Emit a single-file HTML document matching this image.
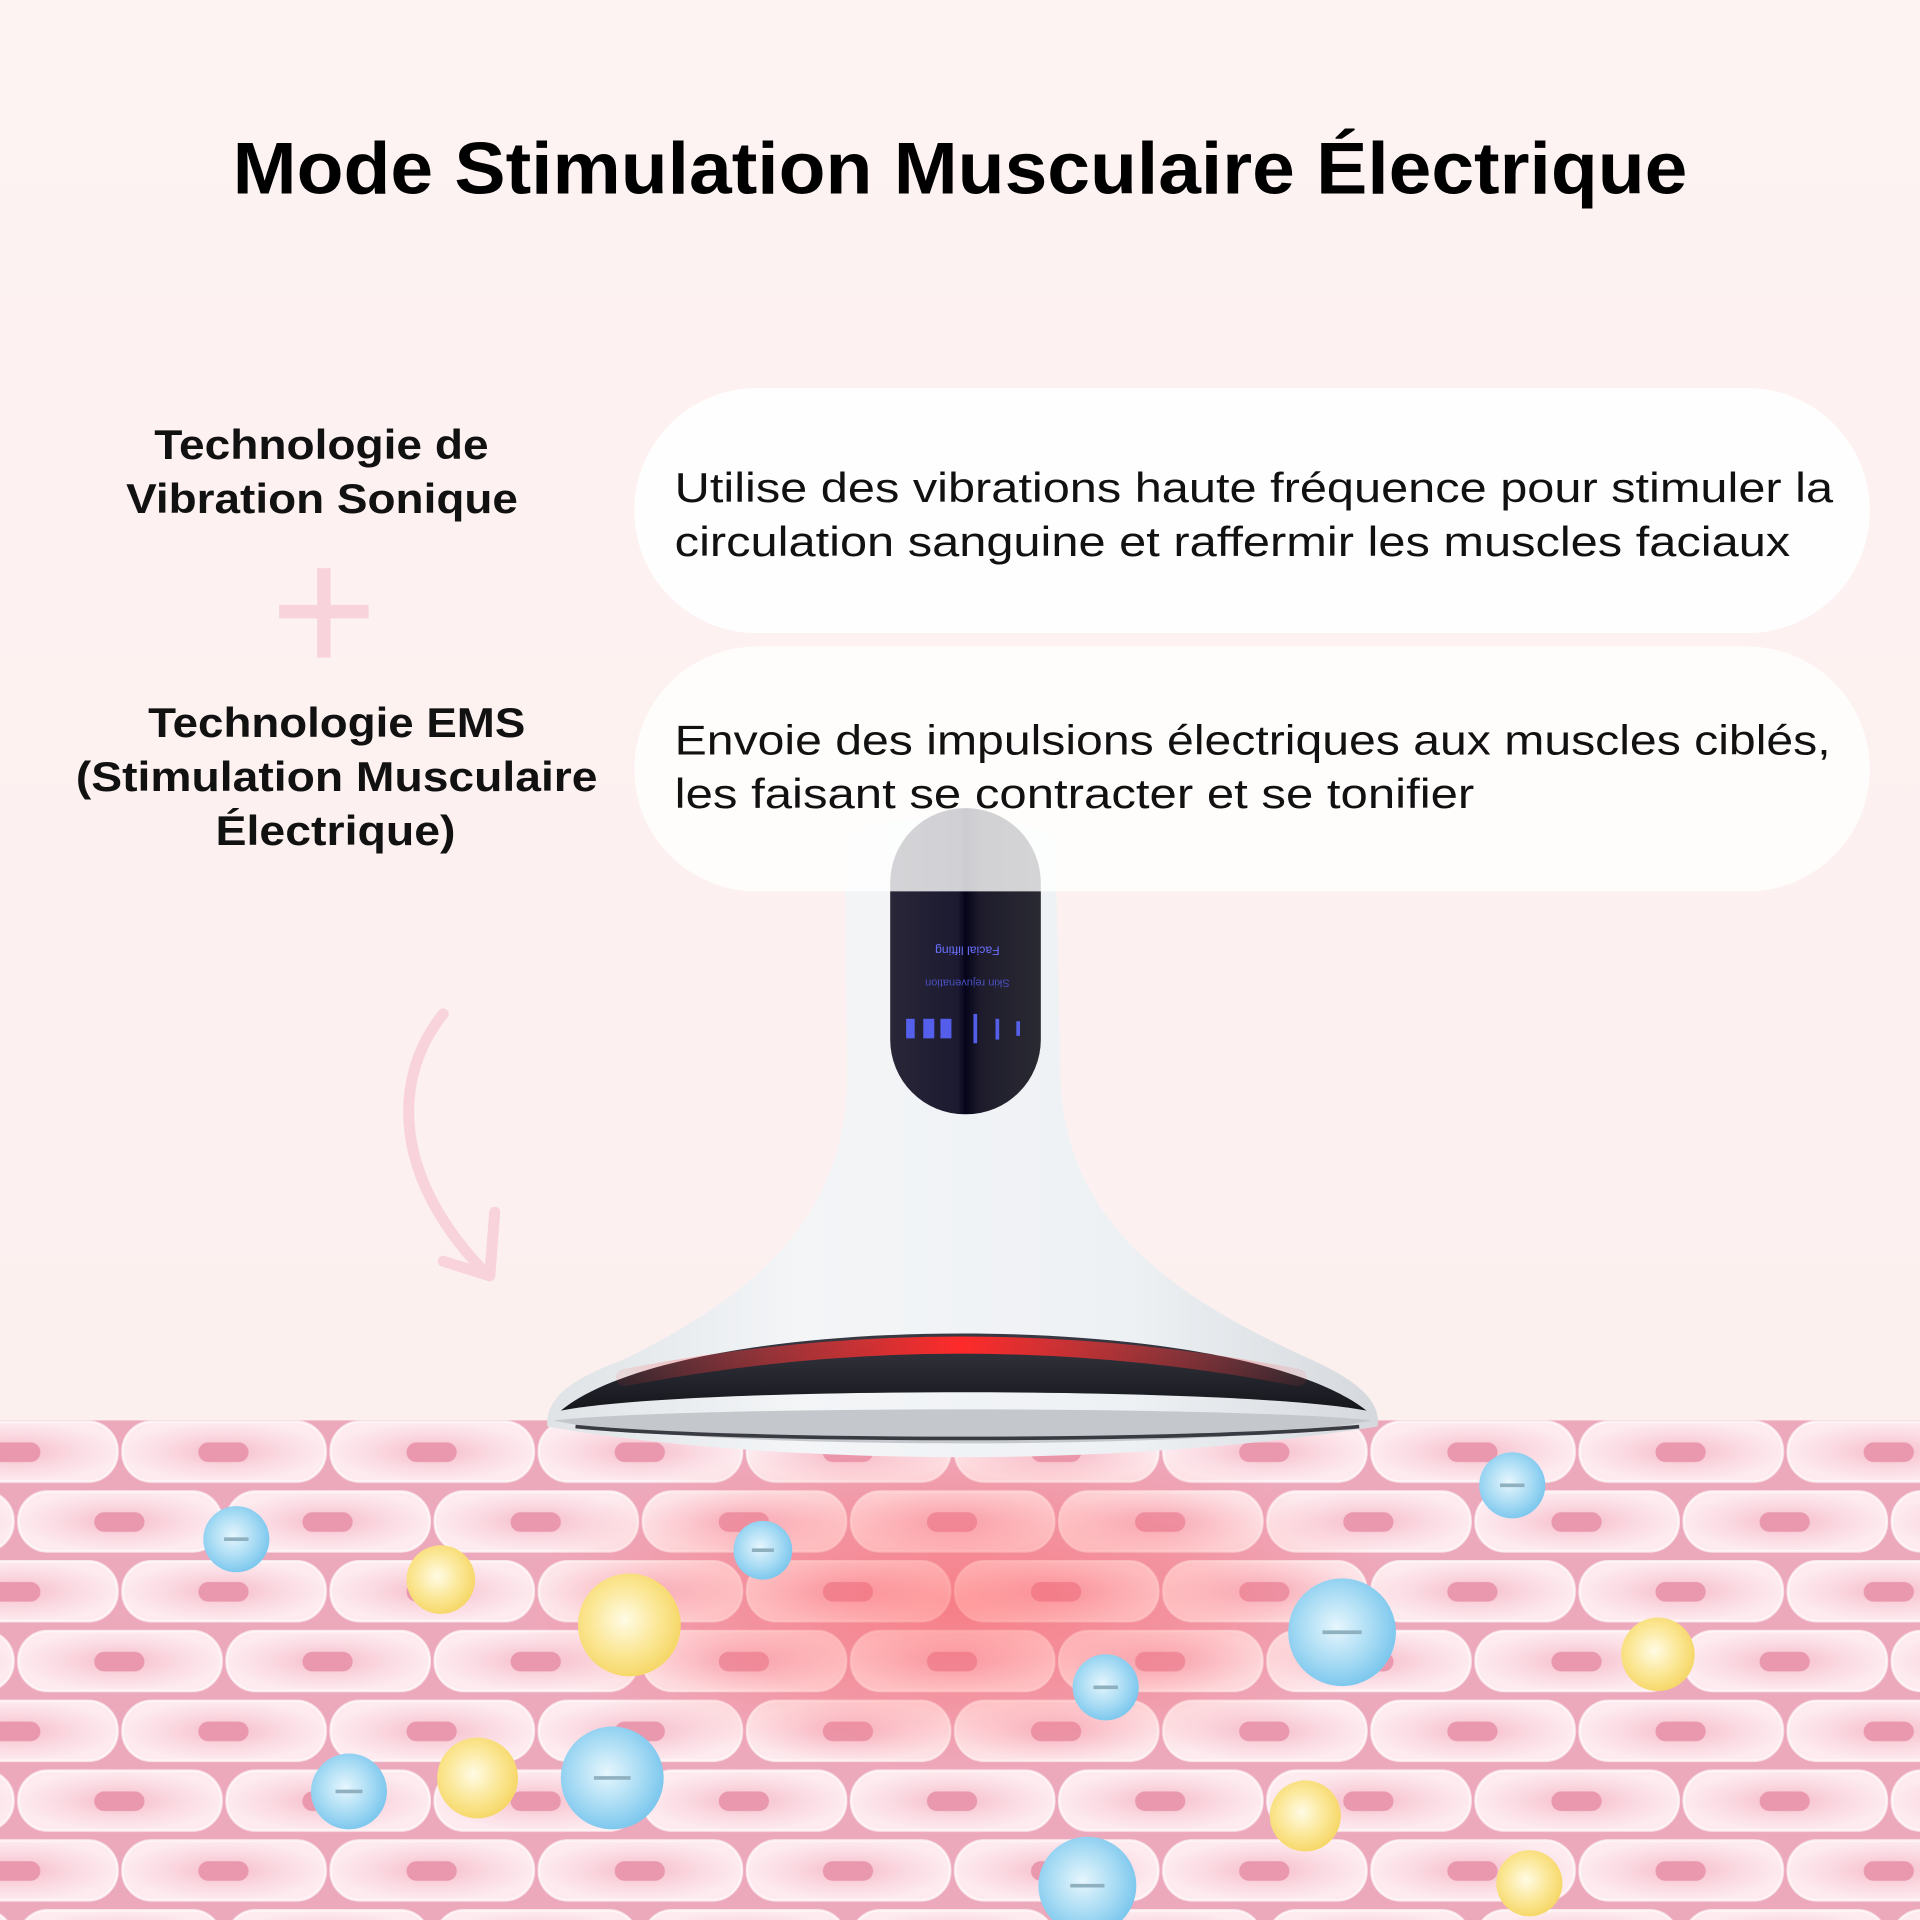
<!DOCTYPE html>
<html><head><meta charset="utf-8"><style>
html,body{margin:0;padding:0;background:#fdf1f0;}
svg{display:block}
text{font-family:"Liberation Sans",sans-serif}
</style></head><body>
<svg width="1920" height="1920" viewBox="0 0 1568 1568" xmlns="http://www.w3.org/2000/svg">
<defs>
<linearGradient id="bg" x1="0" y1="0" x2="0" y2="1"><stop offset="0" stop-color="#fdf3f2"/><stop offset="1" stop-color="#fcefee"/></linearGradient>
<radialGradient id="cellg" cx="0.5" cy="0.5" r="0.5"><stop offset="0" stop-color="#f5bccb"/><stop offset="0.6" stop-color="#fbdbe3"/><stop offset="1" stop-color="#fdebef"/></radialGradient>
<pattern id="cells" x="98" y="1160" width="170" height="114" patternUnits="userSpaceOnUse">
<rect width="170" height="114" fill="#eda9bc"/>
<rect x="2" y="1" width="166" height="49" rx="24" fill="url(#cellg)" stroke="#fff" stroke-opacity="0.7" stroke-width="2"/>
<rect x="64" y="18" width="41" height="16" rx="8" fill="#e998ae"/>
<rect x="-83" y="58" width="166" height="49" rx="24" fill="url(#cellg)" stroke="#fff" stroke-opacity="0.7" stroke-width="2"/>
<rect x="87" y="58" width="166" height="49" rx="24" fill="url(#cellg)" stroke="#fff" stroke-opacity="0.7" stroke-width="2"/>
<rect x="-21" y="75" width="41" height="16" rx="8" fill="#e998ae"/>
<rect x="149" y="75" width="41" height="16" rx="8" fill="#e998ae"/>
</pattern>
<radialGradient id="glow" cx="0.5" cy="0.5" r="0.5"><stop offset="0" stop-color="#ff5a5a" stop-opacity="0.55"/><stop offset="0.6" stop-color="#ff6a6a" stop-opacity="0.3"/><stop offset="1" stop-color="#ff8080" stop-opacity="0"/></radialGradient>
<radialGradient id="blue" cx="0.45" cy="0.45" r="0.55"><stop offset="0" stop-color="#e6f6fd"/><stop offset="0.6" stop-color="#a9dcf4"/><stop offset="1" stop-color="#7ec8ee"/></radialGradient>
<radialGradient id="yel" cx="0.45" cy="0.45" r="0.55"><stop offset="0" stop-color="#fffbe5"/><stop offset="0.6" stop-color="#fbe796"/><stop offset="1" stop-color="#f6d86a"/></radialGradient>
<linearGradient id="body" x1="0" y1="0" x2="1" y2="0"><stop offset="0" stop-color="#dfe3e6"/><stop offset="0.3" stop-color="#f3f5f7"/><stop offset="0.7" stop-color="#eef1f4"/><stop offset="1" stop-color="#d5d9dd"/></linearGradient>
<linearGradient id="scr" x1="0" y1="0" x2="1" y2="0"><stop offset="0" stop-color="#2a2638"/><stop offset="0.45" stop-color="#1b1a30"/><stop offset="0.5" stop-color="#05041a"/><stop offset="0.6" stop-color="#1e1c2c"/><stop offset="1" stop-color="#2a2a32"/></linearGradient>
<linearGradient id="red" x1="0" y1="0" x2="1" y2="0"><stop offset="0" stop-color="#ff4040" stop-opacity="0.1"/><stop offset="0.5" stop-color="#ff2a2a"/><stop offset="1" stop-color="#ff4040" stop-opacity="0.1"/></linearGradient>
<linearGradient id="dark" x1="0" y1="0" x2="0" y2="1"><stop offset="0" stop-color="#3a3a44"/><stop offset="1" stop-color="#15151c"/></linearGradient>
</defs>
<rect width="1568" height="1568" fill="url(#bg)"/>
<text x="190" y="158" textLength="1188" lengthAdjust="spacingAndGlyphs" font-size="60" font-weight="700" fill="#000">Mode Stimulation Musculaire Électrique</text>

<!-- skin -->
<path d="M0 1160 L1568 1160 L1568 1568 L0 1568 Z" fill="url(#cells)"/>
<ellipse cx="785" cy="1310" rx="360" ry="140" fill="url(#glow)"/>

<!-- arrow -->
<path d="M362 828 C 320 880 320 960 395 1038" fill="none" stroke="#f8d3db" stroke-width="9" stroke-linecap="round"/>
<path d="M362 1030 L400 1042 L404 990" fill="none" stroke="#f8d3db" stroke-width="9" stroke-linecap="round" stroke-linejoin="round"/>

<!-- plus -->
<rect x="228" y="494" width="73" height="11" fill="#f8d3db"/>
<rect x="259" y="464" width="11" height="73" fill="#f8d3db"/>

<!-- device -->
<path d="M690 690 C 690 660 860 660 862 690 L 866 880 C 870 1000 960 1060 1070 1110 C 1110 1128 1128 1145 1125 1165 C 1000 1185 870 1190 785 1190 C 700 1190 560 1185 447 1165 C 445 1140 470 1125 510 1110 C 610 1060 690 1000 692 880 Z" fill="url(#body)"/>
<path d="M458 1152 C 560 1068 1010 1068 1116 1152 C 1010 1132 560 1132 458 1152 Z" fill="url(#dark)"/>
<path d="M510 1125 Q 785 1072 1060 1125" fill="none" stroke="url(#red)" stroke-width="14" stroke-linecap="round"/>
<path d="M452 1160 C 560 1148 1010 1148 1120 1160 C 1010 1185 560 1185 452 1160 Z" fill="#c4c8cd"/>
<path d="M470 1165 C 600 1178 970 1178 1110 1165" fill="none" stroke="#3a3a42" stroke-width="3"/>
<rect x="727" y="660" width="123" height="250" rx="61" fill="url(#scr)"/>
<g fill="#5a66ff" opacity="0.9">
<rect x="740" y="832" width="7" height="16"/><rect x="754" y="832" width="9" height="16"/><rect x="768" y="832" width="9" height="16"/>
<rect x="795" y="828" width="3" height="24"/><rect x="813" y="832" width="3" height="17"/><rect x="830" y="834" width="3" height="12"/>
</g>
<text x="790" y="781" text-anchor="middle" font-size="10" fill="#6a70ff" transform="rotate(180 790 777)">Facial lifting</text>
<text x="790" y="808" text-anchor="middle" font-size="9" fill="#4a50c0" transform="rotate(180 790 804)">Skin rejuvenation</text>

<!-- boxes -->
<rect x="518" y="317" width="1009" height="200" rx="100" fill="#fff" fill-opacity="0.93"/>
<rect x="518" y="528" width="1009" height="200" rx="100" fill="#fff" fill-opacity="0.8"/>
<g font-size="34" fill="#111" font-weight="500">
<text x="551" y="410" textLength="946" lengthAdjust="spacingAndGlyphs">Utilise des vibrations haute fréquence pour stimuler la</text>
<text x="551" y="454" textLength="911" lengthAdjust="spacingAndGlyphs">circulation sanguine et raffermir les muscles faciaux</text>
<text x="551" y="616" textLength="944" lengthAdjust="spacingAndGlyphs">Envoie des impulsions électriques aux muscles ciblés,</text>
<text x="551" y="660" textLength="653" lengthAdjust="spacingAndGlyphs">les faisant se contracter et se tonifier</text>
</g>
<g font-size="34" font-weight="700" fill="#111">
<text x="126" y="375" textLength="273" lengthAdjust="spacingAndGlyphs">Technologie de</text>
<text x="103" y="419" textLength="320" lengthAdjust="spacingAndGlyphs">Vibration Sonique</text>
<text x="121" y="602" textLength="308" lengthAdjust="spacingAndGlyphs">Technologie EMS</text>
<text x="62" y="646" textLength="426" lengthAdjust="spacingAndGlyphs">(Stimulation Musculaire</text>
<text x="176" y="690" textLength="196" lengthAdjust="spacingAndGlyphs">Électrique)</text>
</g>

<!-- bubbles -->
<g>
<circle cx="193" cy="1257" r="27" fill="url(#blue)"/><circle cx="623" cy="1266" r="24" fill="url(#blue)"/>
<circle cx="1235" cy="1213" r="27" fill="url(#blue)"/><circle cx="1096" cy="1333" r="44" fill="url(#blue)"/>
<circle cx="903" cy="1378" r="27" fill="url(#blue)"/><circle cx="500" cy="1452" r="42" fill="url(#blue)"/>
<circle cx="285" cy="1463" r="31" fill="url(#blue)"/><circle cx="888" cy="1540" r="40" fill="url(#blue)"/>
<circle cx="360" cy="1290" r="28" fill="url(#yel)"/><circle cx="514" cy="1327" r="42" fill="url(#yel)"/>
<circle cx="1354" cy="1351" r="30" fill="url(#yel)"/><circle cx="390" cy="1452" r="33" fill="url(#yel)"/>
<circle cx="1066" cy="1483" r="29" fill="url(#yel)"/><circle cx="1249" cy="1538" r="27" fill="url(#yel)"/>
</g>
<g stroke="#8fb0bf" stroke-width="3">
<line x1="183" y1="1257" x2="203" y2="1257"/><line x1="614" y1="1266" x2="632" y2="1266"/>
<line x1="1225" y1="1213" x2="1245" y2="1213"/><line x1="1080" y1="1333" x2="1112" y2="1333"/>
<line x1="893" y1="1378" x2="913" y2="1378"/><line x1="485" y1="1452" x2="515" y2="1452"/>
<line x1="274" y1="1463" x2="296" y2="1463"/><line x1="874" y1="1540" x2="902" y2="1540"/>
</g>
</svg>
</body></html>
